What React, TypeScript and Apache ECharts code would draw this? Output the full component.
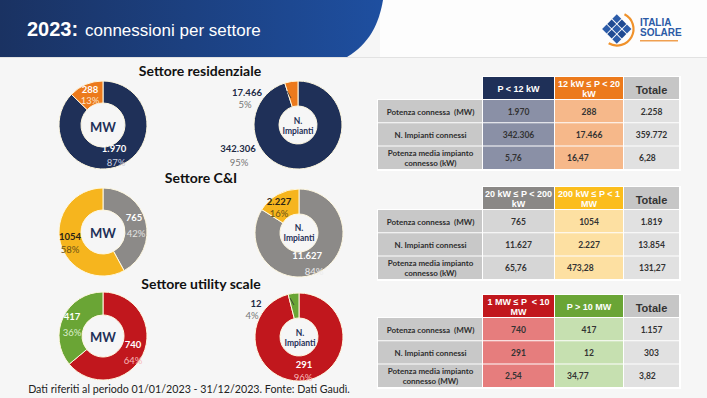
import React, { useEffect, useRef } from "react";
import * as echarts from "echarts";

// ---------- data ----------
const sectorTitles = ["Settore residenziale", "Settore C&I", "Settore utility scale"];
const rowLabels = ["Potenza connessa  (MW)", "N. Impianti connessi", "Potenza media impianto\nconnesso (kW)"];
const rowLabelsUtil = ["Potenza connessa  (MW)", "N. Impianti connessi", "Potenza media impianto\nconnesso (MW)"];

const resClasses = ["P < 12 kW", "12 kW ≤ P < 20\nkW"];
const resMW = [1970, 288];
const resImpianti = [342306, 17466];
const resMedia = [5.76, 16.47];
const resTotale = [2258, 359772, 6.28];

const cniClasses = ["20 kW ≤ P < 200\nkW", "200 kW ≤ P < 1\nMW"];
const cniMW = [765, 1054];
const cniImpianti = [11627, 2227];
const cniMedia = [65.76, 473.28];
const cniTotale = [1819, 13854, 131.27];

const utilClasses = ["1 MW ≤ P  < 10\nMW", "P > 10 MW"];
const utilMW = [740, 417];
const utilImpianti = [291, 12];
const utilMedia = [2.54, 34.77];
const utilTotale = [1157, 303, 3.82];

const footnote = "Dati riferiti al periodo 01/01/2023 - 31/12/2023. Fonte: Dati Gaudì.";

// ---------- helpers ----------
const fmtInt = (v: number, group = true) =>
  group ? String(Math.round(v)).replace(/\B(?=(\d{3})+(?!\d))/g, ".") : String(Math.round(v));
const fmtDec = (v: number) => v.toFixed(2).replace(".", ",");
const pct = (arr: number[], i: number) => Math.round((arr[i] / (arr[0] + arr[1])) * 100) + "%";

const NAVY = "#1f3058";
const ORANGE = "#ec7a1c";
const GRAY = "#8c8a88";
const YELLOW = "#f6b51e";
const RED = "#c1171d";
const GREEN = "#6aa535";
const LATO = "Lato, 'Open Sans', sans-serif";
const ARIAL = "'Liberation Sans', Arial, sans-serif";

export default function App() {
  const ref = useRef<HTMLDivElement>(null);
  useEffect(() => {
    if (!ref.current) return;
    echarts.graphic.registerShape(
      "band",
      echarts.graphic.extendPath("M0 0 L383 0 C379 24 369 44 347 57 L0 57 Z", {}) as any
    );
    const chart = echarts.init(ref.current, null, { renderer: "svg" });

    const pie = (center: number[], inner: number, values: number[], colors: string[]) => ({
      type: "pie",
      center,
      radius: [inner, 44],
      startAngle: 90,
      clockwise: true,
      silent: true,
      label: { show: false },
      labelLine: { show: false },
      emphasis: { disabled: true },
      itemStyle: { borderColor: "#fff8e0", borderWidth: 1 },
      data: values.map((v, i) => ({ value: v, itemStyle: { color: colors[i] } })),
    });

    const g: any[] = [];
    const txt = (x: number, y: number, text: string, font: string, fill: string, align = "center", extra: any = {}) =>
      g.push({
        type: "text",
        x,
        y,
        z: 100,
        silent: true,
        style: { text, font, fill, align, verticalAlign: "middle", lineHeight: extra.lineHeight, ...extra },
      });
    const rect = (x: number, y: number, w: number, h: number, fill: string, z = 50) =>
      g.push({ type: "rect", z, silent: true, shape: { x, y, width: w, height: h }, style: { fill } });

    // header
    rect(0, 0, 707, 398, "#f6f6f6", -10);
    rect(380, 0, 327, 57, "#fdfdfd", -9);
    g.push({
      type: "band",
      x: 0,
      y: 0,
      z: -5,
      silent: true,
      style: {
        fill: new echarts.graphic.LinearGradient(0, 0, 1, 0, [
          { offset: 0, color: "#1a3262" },
          { offset: 1, color: "#1e4fa0" },
        ]),
      },
    });
    rect(0, 57, 707, 1, "#e2e2e2", -5);
    txt(27, 29, "2023:", "bold 20px " + ARIAL, "#ffffff", "left");
    txt(85, 30, "connessioni per settore", "17px " + ARIAL, "#ffffff", "left");

    // logo
    const tiles: any[] = [];
    for (let r = 0; r < 3; r++)
      for (let c = 0; c < 3; c++)
        tiles.push({
          type: "rect",
          shape: { x: -10.5 + c * 7.2, y: -10.5 + r * 7.2, width: 6.3, height: 6.3 },
          style: { fill: (r + c) % 2 === 0 ? "#2c5ca9" : "#1f4a92" },
        });
    g.push({ type: "group", x: 617, y: 29, rotation: Math.PI / 4, z: 60, silent: true, children: tiles });
    g.push({
      type: "arc",
      z: 59,
      silent: true,
      shape: { cx: 617, cy: 29, r: 16.5, startAngle: -1.1, endAngle: 2.1, clockwise: true },
      style: { stroke: "#f0922b", lineWidth: 2.2, fill: "none" },
    });
    txt(640, 22, "ITALIA", "bold 10px " + ARIAL, "#2b5aa6", "left", { letterSpacing: 2 });
    txt(640, 32, "SOLARE", "bold 10px " + ARIAL, "#2b5aa6", "left", { letterSpacing: 0.6 });
    rect(640, 40, 38, 1.5, "#f0a050", 60);

    // section titles
    txt(200, 70, sectorTitles[0], "bold 14px " + LATO, "#111", "center");
    txt(201, 177, sectorTitles[1], "bold 14px " + LATO, "#111", "center");
    txt(201, 283, sectorTitles[2], "bold 14px " + LATO, "#111", "center");

    // donut labels
    const numF = "bold 9.5px " + LATO;
    const pF = "9.5px " + LATO;
    // residential MW
    txt(90, 89, fmtInt(resMW[1]), numF, "#fff");
    txt(90, 100.5, pct(resMW, 1), pF, "#fde3c9");
    txt(114, 148, fmtInt(resMW[0]), numF, "#fff");
    txt(116, 162, pct(resMW, 0), pF, "#c9cfe0");
    txt(103, 127, "MW", "bold 13px " + LATO, NAVY);
    // residential N
    txt(247, 92.5, fmtInt(resImpianti[1]), numF, "#1e2a44");
    txt(245, 104, pct(resImpianti, 1), pF, "#777");
    txt(238, 148, fmtInt(resImpianti[0]), numF, "#1e2a44");
    txt(239, 162, pct(resImpianti, 0), pF, "#777");
    txt(298, 121, "N.", "bold 8.5px " + LATO, NAVY);
    txt(298, 131, "Impianti", "bold 8.5px " + LATO, NAVY);
    // C&I MW
    txt(134, 217, fmtInt(cniMW[0]), numF, "#fff");
    txt(136, 233, pct(cniMW, 0), pF, "#e2e2e2");
    txt(70, 236, fmtInt(cniMW[1], false), numF, "#2a2416");
    txt(70, 249, pct(cniMW, 1), pF, "#6b5215");
    txt(103, 233, "MW", "bold 13px " + LATO, NAVY);
    // C&I N
    txt(279, 201.5, fmtInt(cniImpianti[1]), numF, "#2a2416");
    txt(279, 213, pct(cniImpianti, 1), pF, "#6b5215");
    txt(322, 255, fmtInt(cniImpianti[0]), numF, "#fff", "right");
    txt(314, 271, pct(cniImpianti, 0), pF, "#ececec");
    txt(299, 228, "N.", "bold 8.5px " + LATO, NAVY);
    txt(299, 238, "Impianti", "bold 8.5px " + LATO, NAVY);
    // utility MW
    txt(72, 316, fmtInt(utilMW[1]), numF, "#fff");
    txt(72, 332, pct(utilMW, 1), pF, "#dcefcc");
    txt(133, 344, fmtInt(utilMW[0]), numF, "#fff");
    txt(133, 360, pct(utilMW, 0), pF, "#f6b9b9");
    txt(103, 337, "MW", "bold 13px " + LATO, NAVY);
    // utility N
    txt(256, 303.5, fmtInt(utilImpianti[1]), numF, "#1e2a44");
    txt(252, 315, pct(utilImpianti, 1), pF, "#777");
    txt(304, 364, fmtInt(utilImpianti[0]), numF, "#fff");
    txt(303, 377, pct(utilImpianti, 0), pF, "#f6b9b9");
    txt(300, 333, "N.", "bold 8.5px " + LATO, NAVY);
    txt(300, 343, "Impianti", "bold 8.5px " + LATO, NAVY);

    // leader lines
    g.push({ type: "line", z: 90, silent: true, shape: { x1: 287, y1: 91, x2: 291, y2: 98 }, style: { stroke: "#333", lineWidth: 0.8 } });
    g.push({ type: "line", z: 90, silent: true, shape: { x1: 290, y1: 298, x2: 294, y2: 305 }, style: { stroke: "#333", lineWidth: 0.8 } });

    // footnote
    txt(189, 388, footnote, "10.7px " + LATO, "#222", "center");

    // tables
    const colX = [378, 483, 555, 624, 680];
    const headerH = 23;
    const rowH = 23.3;
    const table = (
      top: number,
      classes: string[],
      hdrColors: string[],
      cellColors: string[],
      labels: string[],
      mw: number[],
      imp: number[],
      media: number[],
      tot: number[],
      mwGroup: boolean[]
    ) => {
      rect(colX[0] - 1, top + headerH - 1, colX[4] - colX[0] + 2, rowH * 3 + 2, "#ffffff", 40);
      rect(colX[1] - 1, top - 1, colX[4] - colX[1] + 2, headerH + 1, "#ffffff", 40);
      for (let c = 0; c < 3; c++) {
        const x0 = colX[c + 1];
        const w = colX[c + 2] - x0 - 1;
        rect(x0, top, w, headerH - 1, hdrColors[c], 50);
        if (c < 2) {
          txt(x0 + w / 2, top + headerH / 2, classes[c], "bold 9px " + ARIAL, "#ffffff", "center", { lineHeight: 10 });
        } else {
          txt(x0 + w / 2, top + headerH / 2 + 1, "Totale", "bold 11px " + ARIAL, "#333", "center");
        }
      }
      const vals = [
        [fmtInt(mw[0], mwGroup[0]), fmtInt(mw[1], mwGroup[1]), fmtInt(tot[0])],
        [fmtInt(imp[0]), fmtInt(imp[1]), fmtInt(tot[1])],
        [fmtDec(media[0]), fmtDec(media[1]), fmtDec(tot[2])],
      ];
      for (let r = 0; r < 3; r++) {
        const y0 = top + headerH + r * rowH;
        rect(colX[0], y0, colX[1] - colX[0] - 1, rowH - 1, "#c8c8c8", 50);
        txt((colX[0] + colX[1]) / 2, y0 + rowH / 2, labels[r], "bold 8px " + LATO, "#2e2e2e", "center", { lineHeight: 10 });
        for (let c = 0; c < 3; c++) {
          const x0 = colX[c + 1];
          const w = colX[c + 2] - x0 - 1;
          rect(x0, y0, w, rowH - 1, cellColors[c], 50);
          if (r < 2) txt(x0 + w / 2, y0 + rowH / 2, vals[r][c], "bold 8.5px " + LATO, "#333", "center");
          else txt(x0 + [22, 12, 15][c], y0 + rowH / 2, vals[r][c], "bold 8.5px " + LATO, "#333", "left");
        }
      }
    };
    table(77, resClasses, [NAVY, ORANGE, "#c6c6c6"], ["#8a90a6", "#f6b88a", "#e1e1e1"], rowLabels, resMW, resImpianti, resMedia, resTotale, [true, true]);
    table(187, cniClasses, ["#8a8886", "#fbbd1c", "#c6c6c6"], ["#d6d6d6", "#fde0a2", "#e1e1e1"], rowLabels, cniMW, cniImpianti, cniMedia, cniTotale, [true, false]);
    table(295, utilClasses, [RED, GREEN, "#c6c6c6"], ["#e67d7d", "#c6e0b0", "#e1e1e1"], rowLabelsUtil, utilMW, utilImpianti, utilMedia, utilTotale, [true, true]);

    chart.setOption({
      animation: false,
      backgroundColor: "#f6f6f6",
      graphic: { elements: g },
      series: [
        pie([103, 125], 22, resMW, [NAVY, ORANGE]),
        pie([298, 125], 19, resImpianti, [NAVY, ORANGE]),
        pie([103, 232], 22, cniMW, [GRAY, YELLOW]),
        pie([299, 233], 19, cniImpianti, [GRAY, YELLOW]),
        pie([103, 336], 21, utilMW, [RED, GREEN]),
        pie([299, 337], 19, utilImpianti, [RED, GREEN]),
      ],
    });
    return () => chart.dispose();
  }, []);
  return <div ref={ref} style={{ position: "fixed", left: 0, top: 0, width: 707, height: 398 }} />;
}
